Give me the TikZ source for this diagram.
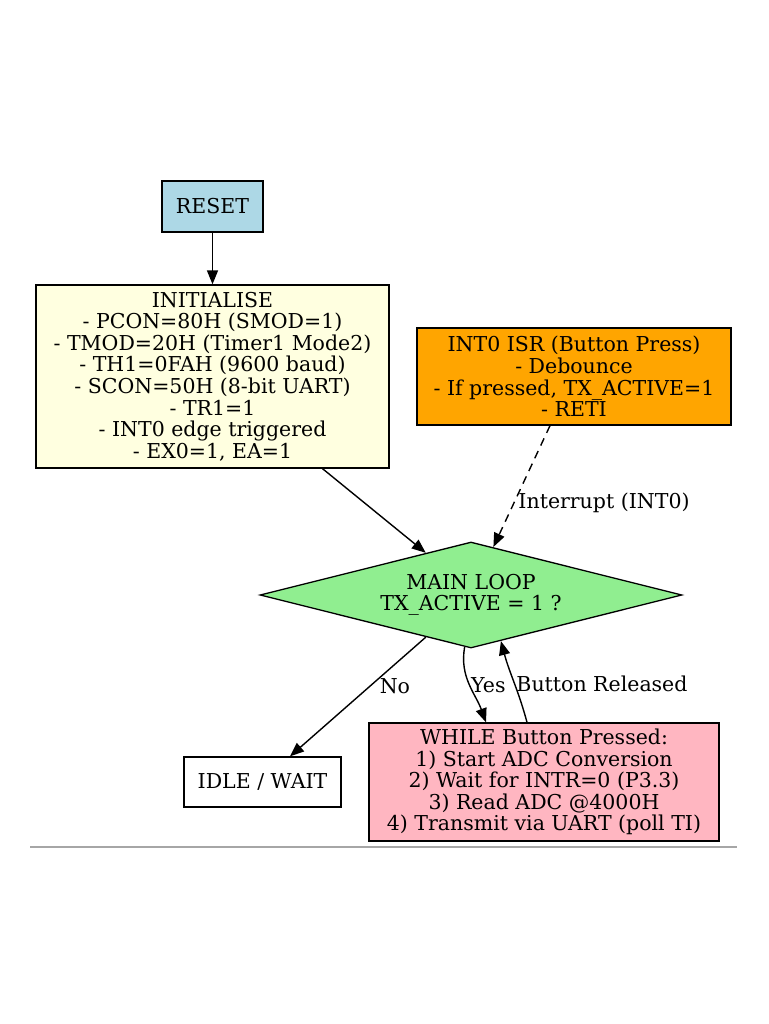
\documentclass[tikz,border=0pt]{standalone}
\usepackage{fontspec}
\setmainfont{DejaVu Serif}
\usetikzlibrary{arrows.meta,positioning,shapes.geometric}

\definecolor{resetblue}{HTML}{ADD8E6}
\definecolor{inityellow}{HTML}{FFFFE0}
\definecolor{isrorange}{HTML}{FFA500}
\definecolor{loopgreen}{HTML}{90EE90}
\definecolor{whilepink}{HTML}{FFB6C1}

\begin{document}
\begin{tikzpicture}[x=1pt, y=-1pt,
    box/.style={draw, line width=1.3pt, align=center, inner sep=0pt,
      font=\fontsize{20.5}{21.6}\selectfont},
    decision/.style={box, diamond, aspect=4},
    arr/.style={-{Triangle[length=14pt,width=11pt]}, line width=1.4pt},
    edgelab/.style={font=\fontsize{20.5}{21.6}\selectfont, inner sep=1pt}]

\useasboundingbox (0,0) rectangle (768,1024);
\fill[white] (0,0) rectangle (768,1024);

% Boxes
\node[box, fill=resetblue, minimum width=101pt, minimum height=51pt] (reset) at (212.5,206.5) {RESET};
\node[box, fill=inityellow, minimum width=353pt, minimum height=183pt] (init) at (212.5,376.5)
  {INITIALISE\\ - PCON=80H (SMOD=1)\\ - TMOD=20H (Timer1 Mode2)\\ - TH1=0FAH (9600 baud)\\
   - SCON=50H (8-bit UART)\\ - TR1=1\\ - INT0 edge triggered\\ - EX0=1, EA=1};
\node[box, fill=isrorange, minimum width=314pt, minimum height=97pt] (isr) at (574,376.5)
  {INT0 ISR (Button Press)\\ - Debounce\\ - If pressed, TX\_ACTIVE=1\\ - RETI};
\node[decision, fill=loopgreen, minimum width=422pt, minimum height=106pt] (loop) at (471,595)
  {MAIN LOOP\\ TX\_ACTIVE = 1 ?};
\node[box, fill=white, minimum width=157pt, minimum height=50pt] (idle) at (262.5,782) {IDLE / WAIT};
\node[box, fill=whilepink, minimum width=350pt, minimum height=118pt] (tx) at (544,782)
  {WHILE Button Pressed:\\ 1) Start ADC Conversion\\ 2) Wait for INTR=0 (P3.3)\\
   3) Read ADC @4000H\\ 4) Transmit via UART (poll TI)};

% Connectors
\draw[arr] (reset) -- (init);
\draw[arr] ([xshift=110pt]init.south) -- (loop.137);
\draw[arr, dash pattern=on 8pt off 6pt] ([xshift=-24pt]isr.south) -- node[edgelab, pos=0.64, anchor=west, xshift=3pt] {Interrupt (INT0)} (loop.65);
\draw[arr] (loop.223) -- node[edgelab, pos=0.41, anchor=west, xshift=8pt] {No} ([xshift=27.5pt]idle.north);
\draw[arr] (loop.263) to[out=-100, in=110] node[edgelab, pos=0.5, anchor=west] {Yes} ([xshift=-58pt]tx.north);
\draw[arr] ([xshift=-17pt]tx.north) to[out=105, in=-75] node[edgelab, pos=0.47, anchor=west] {Button Released} (loop.-57);

% Rule under the chart
\draw[gray!70, line width=1.2pt] (30,847) -- (737,847);

\end{tikzpicture}
\end{document}
